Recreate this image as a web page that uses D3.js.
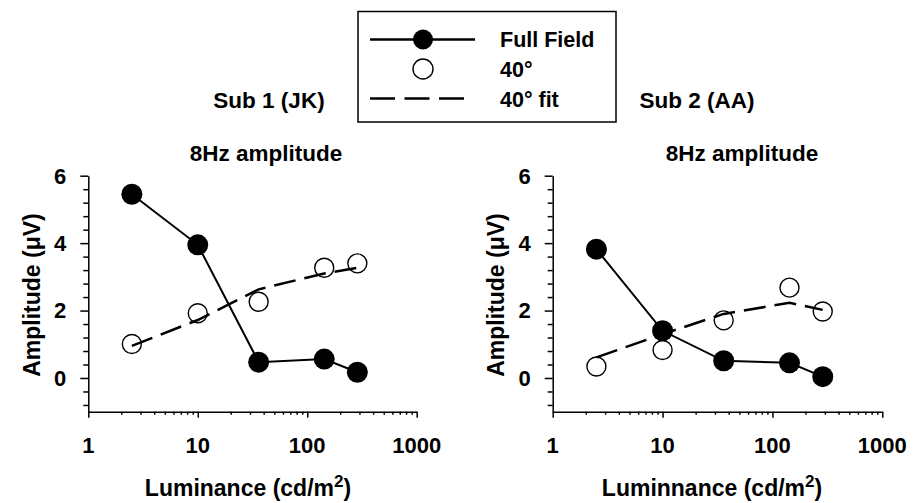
<!DOCTYPE html>
<html>
<head>
<meta charset="utf-8">
<script src="https://cdn.jsdelivr.net/npm/d3@7"></script>
<style>
  html, body { margin: 0; padding: 0; background: #fff; }
  svg { display: block; }
  text { font-family: "Liberation Sans", Arial, Helvetica, sans-serif; font-weight: bold; fill: #000; }
</style>
</head>
<body>
<svg id="chart" width="920" height="503"></svg>
<script>
// Luminance levels (cd/m^2) shared by both subjects
const luminance = [2.5, 10, 36, 143, 287];

// Subject 1 (JK), 8 Hz amplitude in microvolts
const sub1FullField = [5.45, 3.95, 0.47, 0.56, 0.17];
const sub1Field40   = [1.01, 1.92, 2.26, 3.27, 3.40];
const sub1Fit40     = [0.95, 1.72, 2.63, 3.10, 3.27];

// Subject 2 (AA), 8 Hz amplitude in microvolts
const sub2FullField = [3.82, 1.40, 0.51, 0.45, 0.04];
const sub2Field40   = [0.34, 0.83, 1.71, 2.68, 1.97];
const sub2Fit40     = [0.61, 1.30, 1.90, 2.23, 2.02];

// Axis ticks
const xTicks = [1, 10, 100, 1000];
const xTickLabels = ["1", "10", "100", "1000"];
const yTicks = [0, 2, 4, 6];
const yTickLabels = ["0", "2", "4", "6"];

const svg = d3.select("#chart");

const panels = [
  { left: 88.3, right: 416.7, sub: "Sub 1 (JK)", subX: 269, titleX: 266,
    xLabel: "Luminance (cd/m", xLabelX: 248,
    full: sub1FullField, open: sub1Field40, fit: sub1Fit40 },
  { left: 552.7, right: 882.3, sub: "Sub 2 (AA)", subX: 697, titleX: 742,
    xLabel: "Luminnance (cd/m", xLabelX: 712,
    full: sub2FullField, open: sub2Field40, fit: sub2Fit40 }
];

const yTop = 175.7, yBottom = 411.7;

panels.forEach(p => {
  const x = d3.scaleLog().domain([1, 1000]).range([p.left, p.right]);
  const y = d3.scaleLinear().domain([-1, 6]).range([yBottom, yTop]);
  const g = svg.append("g");

  // x axis: decades as major ticks, 2..9 as minor ticks
  const xMinor = [];
  for (let d = 1; d < 1000; d *= 10) for (let k = 2; k <= 9; k++) xMinor.push(d * k);

  const xAxis = g.append("g").attr("transform", `translate(0,${yBottom})`)
    .call(d3.axisBottom(x).tickValues(xTicks).tickFormat("").tickSize(6).tickSizeOuter(0));
  xAxis.append("g").call(d3.axisBottom(x).tickValues(xMinor).tickFormat("").tickSize(3).tickSizeOuter(0))
    .select(".domain").remove();
  xAxis.selectAll("path, line").attr("stroke", "#000").attr("stroke-width", 1.5);

  g.selectAll(".xtl").data(xTicks).enter().append("text")
    .attr("x", d => x(d)).attr("y", 453)
    .attr("text-anchor", "middle").attr("font-size", 22)
    .text((d, i) => xTickLabels[i]);

  // y axis: majors every 2, minors every 0.4 from the top
  const yMinor = d3.range(0, 18).map(k => +(6 - 0.4 * k).toFixed(2))
    .filter(v => v >= -1 && !yTicks.includes(v));

  const yAxis = g.append("g").attr("transform", `translate(${p.left},0)`)
    .call(d3.axisLeft(y).tickValues(yTicks).tickFormat("").tickSize(8).tickSizeOuter(0));
  yAxis.append("g").call(d3.axisLeft(y).tickValues(yMinor).tickFormat("").tickSize(5).tickSizeOuter(0))
    .select(".domain").remove();
  yAxis.selectAll("path, line").attr("stroke", "#000").attr("stroke-width", 1.5);

  g.selectAll(".ytl").data(yTicks).enter().append("text")
    .attr("x", p.left - 22).attr("y", d => y(d))
    .attr("dy", "0.36em")
    .attr("text-anchor", "end").attr("font-size", 22)
    .text((d, i) => yTickLabels[i]);

  // titles
  g.append("text").attr("x", p.subX).attr("y", 108)
    .attr("text-anchor", "middle").attr("font-size", 22.5).text(p.sub);
  g.append("text").attr("x", p.titleX).attr("y", 161)
    .attr("text-anchor", "middle").attr("font-size", 22.5).text("8Hz amplitude");

  // axis labels
  g.append("text")
    .attr("transform", `translate(${p.left - 57},295) rotate(-90)`)
    .attr("dy", "0.36em")
    .attr("text-anchor", "middle").attr("font-size", 23)
    .text("Amplitude (μV)");

  const xl = g.append("text").attr("x", p.xLabelX).attr("y", 496)
    .attr("text-anchor", "middle").attr("font-size", 23);
  xl.append("tspan").text(p.xLabel);
  xl.append("tspan").attr("dy", -9).attr("font-size", 17).text("2");
  xl.append("tspan").attr("dy", 9).text(")");

  // series
  const line = d3.line().x((d, i) => x(luminance[i])).y(d => y(d));

  g.append("path").datum(p.fit)
    .attr("d", line).attr("fill", "none")
    .attr("stroke", "#000").attr("stroke-width", 2.5)
    .attr("stroke-dasharray", "22,9");

  g.append("path").datum(p.full)
    .attr("d", line).attr("fill", "none")
    .attr("stroke", "#000").attr("stroke-width", 2);

  g.selectAll(".open").data(p.open).enter().append("circle")
    .attr("cx", (d, i) => x(luminance[i])).attr("cy", d => y(d))
    .attr("r", 9.5).attr("fill", "none").attr("stroke", "#000").attr("stroke-width", 1.4);

  g.selectAll(".full").data(p.full).enter().append("circle")
    .attr("cx", (d, i) => x(luminance[i])).attr("cy", d => y(d))
    .attr("r", 10.5).attr("fill", "#000");
});

// legend
const lg = svg.append("g");
lg.append("rect").attr("x", 358).attr("y", 11.5).attr("width", 258).attr("height", 110.5)
  .attr("fill", "#fff").attr("stroke", "#000").attr("stroke-width", 1.5);

lg.append("line").attr("x1", 370).attr("x2", 475).attr("y1", 39.5).attr("y2", 39.5)
  .attr("stroke", "#000").attr("stroke-width", 2.5);
lg.append("circle").attr("cx", 423).attr("cy", 39.5).attr("r", 10).attr("fill", "#000");
lg.append("circle").attr("cx", 423).attr("cy", 69).attr("r", 10)
  .attr("fill", "none").attr("stroke", "#000").attr("stroke-width", 1.4);
lg.append("line").attr("x1", 370).attr("x2", 464).attr("y1", 98.5).attr("y2", 98.5)
  .attr("stroke", "#000").attr("stroke-width", 2.5).attr("stroke-dasharray", "25,9.5");

const legendLabels = ["Full Field", "40°", "40° fit"];
const legendBaselines = [46.5, 76.7, 106.8];
lg.selectAll(".lt").data(legendLabels).enter().append("text")
  .attr("x", 500).attr("y", (d, i) => legendBaselines[i])
  .attr("font-size", 21.5).text(d => d);
</script>
</body>
</html>
